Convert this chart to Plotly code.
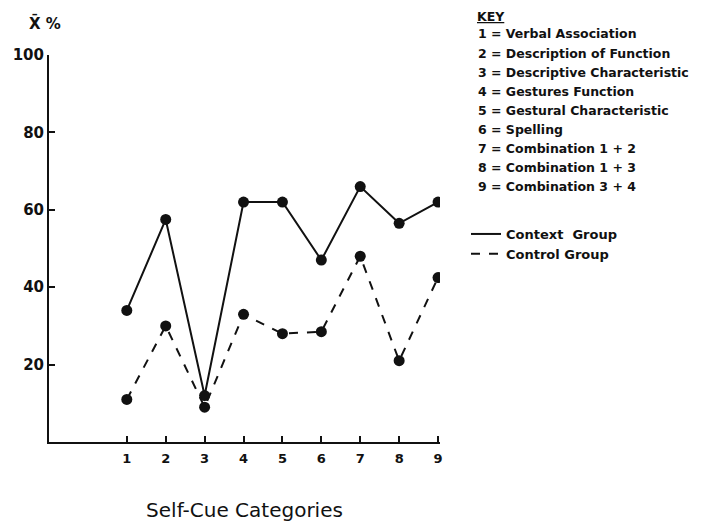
import plotly.graph_objects as go

# Self-cue categories 1..9
categories = [1, 2, 3, 4, 5, 6, 7, 8, 9]
context_group = [34, 57.5, 12, 62, 62, 47, 66, 56.5, 62]
control_group = [11, 30, 9, 33, 28, 28.5, 48, 21, 42.5]

key_labels = [
    "1 = Verbal Association",
    "2 = Description of Function",
    "3 = Descriptive Characteristic",
    "4 = Gestures Function",
    "5 = Gestural Characteristic",
    "6 = Spelling",
    "7 = Combination 1 + 2",
    "8 = Combination 1 + 3",
    "9 = Combination 3 + 4",
]
y_ticks = [20, 40, 60, 80, 100]

FONT = "DejaVu Sans"
INK = "#111111"

fig = go.Figure()

fig.add_trace(go.Scatter(
    x=categories, y=context_group, mode="lines+markers",
    line=dict(color=INK, width=2), marker=dict(size=11, color=INK),
    showlegend=False, name="Context Group",
))
fig.add_trace(go.Scatter(
    x=categories, y=control_group, mode="lines+markers",
    line=dict(color=INK, width=2, dash="dash"), marker=dict(size=11, color=INK),
    showlegend=False, name="Control Group",
))

# legend-only entries (line samples without markers)
fig.add_trace(go.Scatter(x=[None], y=[None], mode="lines", name="Context  Group",
                         line=dict(color=INK, width=2)))
fig.add_trace(go.Scatter(x=[None], y=[None], mode="lines", name="Control Group",
                         line=dict(color=INK, width=2, dash="dash")))

# helpers: screen pixel -> paper coords (plot area 49..440 x, 55..442 y)
def px2paper(px):
    return (px - 49) / 391

def py2paper(py):
    return (442 - py) / 387

fig.add_annotation(text="<b><u>KEY</u></b>", xref="paper", yref="paper",
                   x=px2paper(475), y=py2paper(16), xanchor="left", yanchor="middle",
                   showarrow=False, font=dict(size=12.5, color=INK, family=FONT))
for i, lab in enumerate(key_labels):
    fig.add_annotation(text="<b>" + lab + "</b>", xref="paper", yref="paper",
                       x=px2paper(476), y=py2paper(34 + i * 19.0),
                       xanchor="left", yanchor="middle", showarrow=False,
                       font=dict(size=12.5, color=INK, family=FONT))

fig.add_annotation(text="<b>X\u0304 %</b>", xref="paper", yref="paper",
                   x=px2paper(27), y=py2paper(23), xanchor="left", yanchor="middle",
                   showarrow=False, font=dict(size=15, color=INK, family=FONT))

# page body has an 8px margin, so the figure margins are offset by 8
fig.update_layout(
    width=702, height=525,
    margin=dict(l=41, r=270, t=47, b=91),
    paper_bgcolor="white", plot_bgcolor="white",
    font=dict(family=FONT, color=INK, size=13),
    legend=dict(x=px2paper(466), y=py2paper(219), xanchor="left", yanchor="top",
                bgcolor="rgba(0,0,0,0)", font=dict(size=13, family=FONT, color=INK, weight="bold"),
                itemwidth=30, tracegroupgap=0),
    xaxis=dict(
        range=[-1, 9.05], tickvals=categories, ticktext=[str(c) for c in categories],
        showgrid=False, zeroline=False, showline=True, linecolor=INK, linewidth=2,
        ticks="inside", ticklen=6, tickwidth=1.5, tickcolor=INK, automargin=False,
        tickfont=dict(size=13, weight="bold"), ticklabelstandoff=3,
        title=dict(text="Self-Cue Categories", font=dict(size=20), standoff=38),
    ),
    yaxis=dict(
        range=[0, 100], tickvals=y_ticks, ticktext=[str(v) for v in y_ticks],
        showgrid=False, zeroline=False, showline=True, linecolor=INK, linewidth=2,
        ticks="inside", ticklen=6, tickwidth=1.5, tickcolor=INK, automargin=False,
        tickfont=dict(size=15, weight="bold"),
    ),
)

fig.write_html("out.html")
